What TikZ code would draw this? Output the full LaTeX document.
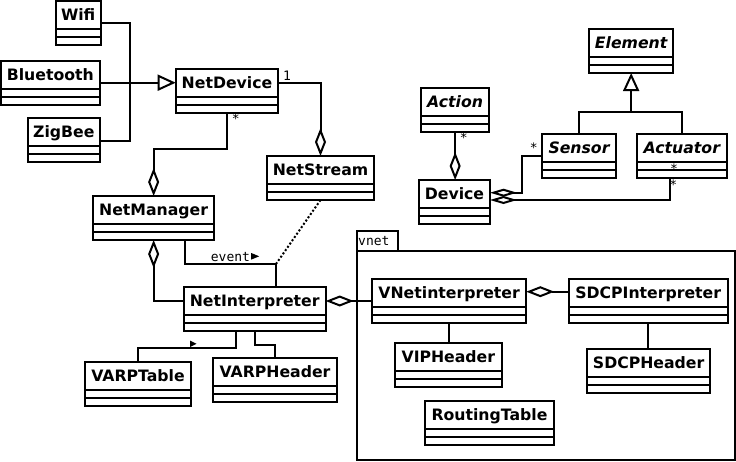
\documentclass[tikz,border=0pt]{standalone}
\usepackage{fontspec}
\setmainfont{DejaVu Sans}
\setmonofont{DejaVu Sans Mono}
\usetikzlibrary{arrows.meta,calc}
\tikzset{
  ln/.style={line width=2pt},
  classbox/.style={draw, ln, minimum height=44pt, inner sep=0pt, outer sep=0pt},
  conn/.style={ln},
  agg/.style={-{Diamond[open,length=28pt,width=11pt]}},
  aggflat/.style={-{Diamond[open,length=27pt,width=8pt]}},
  gen/.style={-{Triangle[open,length=18pt,width=16pt]}},
  lbl/.style={font=\fontsize{13}{14}\selectfont\ttfamily, inner sep=0pt},
}
\newcommand\umlclass[6]{%
  \node[classbox, minimum width={#4-#2}, anchor=north west] (#1) at (#2,#3) {};
  \node[anchor=base, inner sep=0pt, font=\fontsize{15.7}{18}\selectfont\bfseries#6] (#1-t) at ($(#1.north)+(0,19)$) {#5};
  \draw[ln] ($(#1.north west)+(0,28)$) -- ($(#1.north east)+(0,28)$);
  \draw[ln] ($(#1.north west)+(0,36)$) -- ($(#1.north east)+(0,36)$);
}
\begin{document}
\begin{tikzpicture}[x=1pt,y=-1pt]
\useasboundingbox (0,0) rectangle (736,461);
% package
\node[draw, ln, minimum width=40.5pt, minimum height=20pt, inner sep=0pt, anchor=north west] (vnettab) at (356,230) {};
\node[draw, ln, minimum width=378pt, minimum height=209pt, inner sep=0pt, anchor=north west] (vnetpkg) at (356,250) {};
\node[lbl, anchor=base west] (vnetlbl) at (358,245) {vnet};
% classes
\umlclass{wifi}{55.7}{1}{100.7}{Wifi}{}
\umlclass{bt}{1}{61}{99.7}{Bluetooth}{}
\umlclass{zigbee}{27.7}{118.3}{100}{ZigBee}{}
\umlclass{netdevice}{175.7}{69}{278.3}{NetDevice}{}
\umlclass{netstream}{266.7}{156}{374.3}{NetStream}{}
\umlclass{netmanager}{93}{196}{214.3}{NetManager}{}
\umlclass{element}{589}{29}{673.3}{Element}{\itshape}
\umlclass{action}{421}{88}{489.3}{Action}{\itshape}
\umlclass{sensor}{542.3}{134.3}{615.7}{Sensor}{\itshape}
\umlclass{actuator}{636.7}{134}{727}{Actuator}{\itshape}
\umlclass{device}{419}{180}{490}{Device}{}
\umlclass{netinterp}{183.7}{287}{325.7}{NetInterpreter}{}
\umlclass{varptable}{85.3}{362}{190.7}{VARPTable}{}
\umlclass{varpheader}{213.3}{358}{336.7}{VARPHeader}{}
\umlclass{vnetinterp}{372}{279}{526.3}{VNetinterpreter}{}
\umlclass{sdcpinterp}{568.7}{279}{727.7}{SDCPInterpreter}{}
\umlclass{vipheader}{395}{343.3}{501.7}{VIPHeader}{}
\umlclass{sdcpheader}{587.3}{349.3}{710}{SDCPHeader}{}
\umlclass{routing}{425}{401}{554}{RoutingTable}{}
% generalization to NetDevice
\coordinate (genbus) at (130,82.7);
\draw[conn] (wifi.east |- 0,23) -| (genbus) |- (zigbee.east |- 0,140.7);
\draw[conn, gen] (bt.east |- genbus) -- (netdevice.west |- genbus);
% aggregations
\draw[conn, agg] (netdevice.east |- 0,82.7) -| (netstream.north);
\draw[conn, agg] (netdevice.south) -- ++(0,35.6) -| (netmanager.north);
\coordinate (evcorner) at (276,264);
\draw[conn] (netmanager.south -| 185,0) |- (evcorner) -- (evcorner |- netinterp.north);
\draw[conn, dash pattern=on 2pt off 2pt] (netstream.south) -- (evcorner);
\draw[conn, agg] (netinterp.west |- 0,300.7) -| (netmanager.south);
\draw[conn, agg] (vnetinterp.west |- 0,301) -- (netinterp.east |- 0,301);
\draw[conn] (netinterp.south -| 236,0) -- ++(0,16.6) -| (varptable.north);
\fill (190,340.5) -- (196.5,343.8) -- (190,347) -- cycle;
\draw[conn] (netinterp.south -| 255,0) -- ++(0,14.3) -| (varpheader.north);
\draw[conn, agg] (sdcpinterp.west |- 0,291.7) -- (vnetinterp.east |- 0,291.7);
\draw[conn] (vnetinterp.south) -- (vnetinterp.south |- vipheader.north);
\draw[conn] (sdcpinterp.south) -- (sdcpinterp.south |- sdcpheader.north);
% Element hierarchy
\draw[conn] (sensor.north) |- (actuator.north |- 0,112.3) -- (actuator.north);
\draw[conn, gen] (element.south |- 0,112.3) -- (element.south);
\draw[conn, agg] (action.south) -- (action.south |- device.north);
\coordinate (sbend) at (522.3,155.7);
\draw[conn, aggflat] (sensor.west |- sbend) -- (sbend) |- (device.east |- 0,192.7);
\draw[conn, aggflat] (actuator.south -| 670,0) |- (device.east |- 0,200);
% labels
\node[lbl] (m1) at (287,76) {1};
\node[lbl] (m2) at (235.7,119) {*};
\node[lbl] (m3) at (463.7,137.7) {*};
\node[lbl] (m4) at (533.7,147.7) {*};
\node[lbl] (m5) at (674,169) {*};
\node[lbl] (m6) at (673.3,184.5) {*};
\node[lbl, anchor=base west] (ev) at (210.7,261.7) {event};
\fill ($(ev.base east)+(1,-8.7)$) -- ++(8,3.3) -- ++(-8,3.3) -- cycle;
\end{tikzpicture}
\end{document}
